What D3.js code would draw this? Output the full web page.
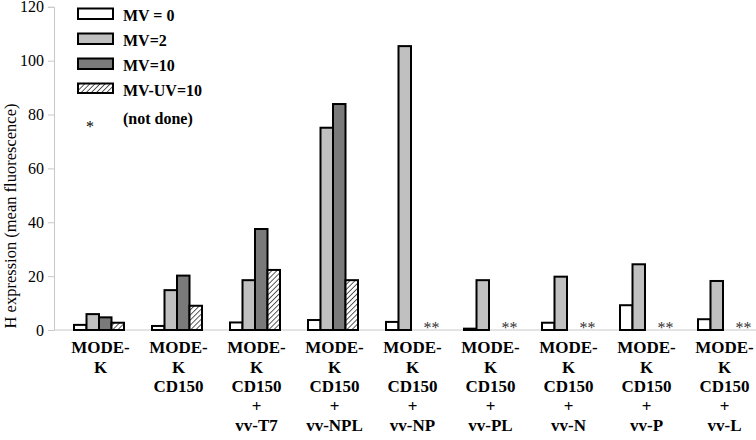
<!DOCTYPE html>
<html>
<head>
<meta charset="utf-8">
<script src="https://cdn.jsdelivr.net/npm/d3@7"></script>
<style>
  html, body { margin: 0; padding: 0; background: #fff; }
  svg { display: block; }
</style>
</head>
<body>
<svg id="chart" width="756" height="440"></svg>
<script>
// ---- data ----
const categories = [
  ["MODE-", "K"],
  ["MODE-", "K", "CD150"],
  ["MODE-", "K", "CD150", "+", "vv-T7"],
  ["MODE-", "K", "CD150", "+", "vv-NPL"],
  ["MODE-", "K", "CD150", "+", "vv-NP"],
  ["MODE-", "K", "CD150", "+", "vv-PL"],
  ["MODE-", "K", "CD150", "+", "vv-N"],
  ["MODE-", "K", "CD150", "+", "vv-P"],
  ["MODE-", "K", "CD150", "+", "vv-L"]
];
const seriesNames = ["MV = 0", "MV=2", "MV=10", "MV-UV=10"];
const mv0    = [1.9, 1.5, 2.8, 3.7, 3.0, 0.5, 2.7, 9.2, 4.0];
const mv2    = [5.9, 14.8, 18.5, 75.1, 105.4, 18.5, 19.8, 24.4, 18.2];
const mv10   = [4.7, 20.2, 37.5, 83.9, null, null, null, null, null];
const mvuv10 = [2.7, 9.0, 22.3, 18.5, null, null, null, null, null];
const yTicks = [0, 20, 40, 60, 80, 100, 120];
const yTitle = "H expression (mean fluorescence)";
const notDoneLabel = "(not done)";

// ---- setup ----
const FONT = "'Liberation Serif', 'Times New Roman', Times, serif";
const svg = d3.select("#chart");
const seriesValues = [mv0, mv2, mv10, mvuv10];
const fills = ["#ffffff", "#c0c0c0", "#7a7a7a", "url(#hatch)"];

const defs = svg.append("defs");
const pat = defs.append("pattern")
  .attr("id", "hatch").attr("patternUnits", "userSpaceOnUse")
  .attr("width", 3.6).attr("height", 3.6)
  .attr("patternTransform", "rotate(45)");
pat.append("rect").attr("width", 3.6).attr("height", 3.6).attr("fill", "#fff");
pat.append("line").attr("x1", 0).attr("y1", 0).attr("x2", 0).attr("y2", 3.6)
  .attr("stroke", "#000").attr("stroke-width", 1.3);

const catIdx = categories.map((d, i) => i);
const x0 = d3.scaleBand().domain(catIdx).range([60, 762]).paddingInner(0);
const x1 = d3.scaleBand().domain(d3.range(seriesNames.length))
  .range([x0.bandwidth() / 2 - 25, x0.bandwidth() / 2 + 25]);
const y = d3.scaleLinear().domain([0, 120]).range([330, 6.8]);

// x baseline
svg.append("line")
  .attr("x1", 54).attr("x2", 756)
  .attr("y1", y(0)).attr("y2", y(0))
  .attr("stroke", "#c8c8c8").attr("stroke-width", 1);

// y axis
const yAxis = svg.append("g")
  .attr("transform", "translate(54,0)")
  .call(d3.axisLeft(y).tickValues(yTicks).tickSize(6).tickPadding(4))
  .attr("font-family", FONT).attr("font-size", 16);
yAxis.select(".domain").attr("stroke", "#c8c8c8");
yAxis.selectAll(".tick line").attr("stroke", "#c8c8c8");
yAxis.selectAll(".tick text")
  .attr("font-size", 16).attr("fill", "#000")
  .attr("font-family", FONT);

// y title
svg.append("text")
  .attr("transform", `translate(15.5,${216}) rotate(-90)`)
  .attr("text-anchor", "middle")
  .attr("font-family", FONT)
  .attr("font-size", 16.5)
  .attr("fill", "#000")
  .text(yTitle);

// bars
const groups = svg.append("g").selectAll("g")
  .data(catIdx).join("g")
  .attr("transform", i => `translate(${x0(i)},0)`);

groups.selectAll("rect")
  .data(i => seriesValues.map((vals, s) => ({ s, v: vals[i] })).filter(d => d.v !== null))
  .join("rect")
  .attr("x", d => x1(d.s))
  .attr("width", x1.bandwidth())
  .attr("y", d => y(d.v))
  .attr("height", d => y(0) - y(d.v))
  .attr("fill", d => fills[d.s])
  .attr("stroke", "#000")
  .attr("stroke-width", 2);

// not done markers
groups.filter(i => mv10[i] === null)
  .append("text")
  .attr("x", x1(2) + x1.bandwidth() + 8)
  .attr("y", y(0) + 2.5)
  .attr("text-anchor", "middle")
  .attr("font-family", FONT)
  .attr("font-size", 16)
  .attr("fill", "#333")
  .text("**");

// x labels
const lab = svg.append("g").selectAll("text")
  .data(catIdx).join("text")
  .attr("text-anchor", "middle")
  .attr("font-family", FONT)
  .attr("font-size", 17)
  .attr("font-weight", "bold")
  .attr("fill", "#000")
  .attr("transform", i => `translate(${x0(i) + x0.bandwidth() / 2 + 1.5},0)`);
lab.selectAll("tspan")
  .data(i => categories[i])
  .join("tspan")
  .attr("x", 0)
  .attr("y", (d, j) => 353 + j * 19.5)
  .text(d => d);

// legend
const legendRows = [21, 46, 71, 96];
const leg = svg.append("g");
seriesNames.forEach((name, s) => {
  const by = legendRows[s];
  leg.append("rect")
    .attr("x", 78).attr("y", by - 12.5)
    .attr("width", 35).attr("height", s === 3 ? 9.5 : 10.5)
    .attr("fill", fills[s]).attr("stroke", "#000").attr("stroke-width", 2);
  leg.append("text")
    .attr("x", 123).attr("y", by)
    .attr("font-family", FONT)
    .attr("font-size", 16).attr("font-weight", "bold")
    .attr("fill", "#000")
    .text(name);
});
leg.append("text")
  .attr("x", 90).attr("y", 132)
  .attr("text-anchor", "middle")
  .attr("font-family", FONT)
  .attr("font-size", 16)
  .attr("fill", "#000")
  .text("*");
leg.append("text")
  .attr("x", 123).attr("y", 124)
  .attr("font-family", FONT)
  .attr("font-size", 16).attr("font-weight", "bold")
  .attr("fill", "#000")
  .text(notDoneLabel);
</script>
</body>
</html>
